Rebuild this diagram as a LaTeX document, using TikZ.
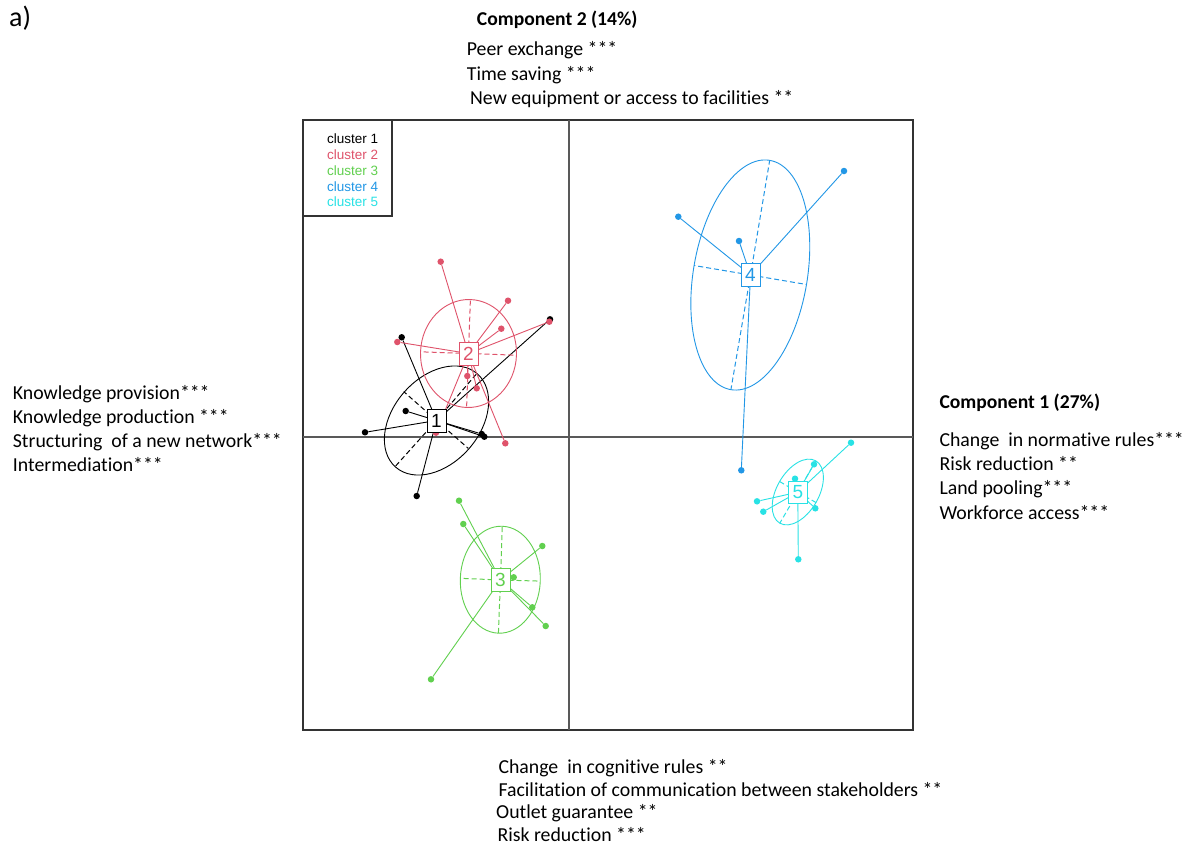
\documentclass[tikz,border=0pt]{standalone}
\usepackage{fontspec}
\setmainfont[Ligatures=NoCommon]{Carlito}
\newfontfamily\legendfont{Liberation Sans}
\definecolor{clK}{HTML}{000000}
\definecolor{clR}{HTML}{DF536B}
\definecolor{clG}{HTML}{61D04F}
\definecolor{clB}{HTML}{2297E6}
\definecolor{clC}{HTML}{28E2E5}
\begin{document}
\begin{tikzpicture}[x=1pt,y=-1pt,
  txt/.style={anchor=base west,inner sep=0pt,font=\fontsize{19.8}{23.6}\selectfont},
  ttl/.style={anchor=base west,inner sep=0pt,font=\fontsize{19.6}{23.6}\selectfont\bfseries},
  leg/.style={anchor=base west,inner sep=0pt,font=\legendfont\fontsize{13.5}{16}\selectfont},
  ell/.style={line width=0.9pt},
  axd/.style={line width=1pt,dash pattern=on 5pt off 3pt},
  conn/.style={line width=0.9pt},
  dot/.style={circle,fill,inner sep=0pt,minimum size=6.5pt},
  cbox/.style={draw,fill=white,line width=0.9pt,inner sep=0pt,minimum width=19pt,minimum height=23pt,font=\legendfont\fontsize{19}{19}\selectfont},
  frm/.style={line width=1.1pt,draw=black!80},
  axl/.style={line width=1.1pt,draw=black!65}]
\useasboundingbox (0,0) rectangle (1187,847);
\fill[white] (0,0) rectangle (1187,847);

% plot frame, axes, legend box
\draw[frm] (303,120) rectangle (913,730);
\coordinate (hl) at (303,437); \coordinate (hr) at (913,437);
\coordinate (vt) at (569,120); \coordinate (vb) at (569,730);
\draw[axl] (hl) -- (hr);
\draw[axl] (vt) -- (vb);
\draw[frm] (303,120) rectangle (392,216);
\node[leg,text=clK] (l1) at (327,143) {cluster 1};
\node[leg,text=clR] (l2) at (327,159) {cluster 2};
\node[leg,text=clG] (l3) at (327,175) {cluster 3};
\node[leg,text=clB] (l4) at (327,191) {cluster 4};
\node[leg,text=clC] (l5) at (327,206.5) {cluster 5};

% centres
\coordinate (c1) at (436.5,420.5);
\coordinate (c2) at (468.5,353.5);
\coordinate (c3) at (500.5,580);
\coordinate (c4) at (750.5,275);
\coordinate (c5) at (797.8,492.2);

% cluster 1
\draw[ell,clK,rotate around={48.7:(436.5,420.5)}] (436.5,420.5) ellipse [x radius=62,y radius=43];
\foreach \x/\y [count=\i] in {476.9/373.4, 395.1/466.6, 468.3/448.4, 403.7/391.6}
  {\coordinate (e1-\i) at (\x,\y); \draw[axd,clK] (c1) -- (e1-\i);}
\foreach \x/\y [count=\i] in {401.7/337.3, 405.7/411, 365/432.3, 481.7/434, 484.3/436.7, 550/319.3, 416.7/496}
  {\node[dot,clK] (p1-\i) at (\x,\y) {}; \draw[conn,clK] (c1) -- (p1-\i);}

% cluster 2
\draw[ell,clR,rotate around={-2:(468.5,353.5)}] (468.5,353.5) ellipse [x radius=48,y radius=54];
\foreach \x/\y [count=\i] in {516.5/355.2, 420.5/351.8, 470.4/299.5, 466.6/407.5}
  {\coordinate (e2-\i) at (\x,\y); \draw[axd,clR] (c2) -- (e2-\i);}
\foreach \x/\y [count=\i] in {440.7/261.7, 508/300.7, 501.3/328.7, 549.3/321.7, 397.3/342, 467.3/376, 476.7/388.3, 505.3/443.3, 436/432.7}
  {\node[dot,clR] (p2-\i) at (\x,\y) {}; \draw[conn,clR] (c2) -- (p2-\i);}

% cluster 3
\draw[ell,clG,rotate around={-2:(500.3,579.7)}] (500.3,579.7) ellipse [x radius=40,y radius=53.5];
\foreach \x/\y [count=\i] in {540.3/581.1, 460.3/578.3, 502.2/526.2, 498.4/633.2}
  {\coordinate (e3-\i) at (\x,\y); \draw[axd,clG] (c3) -- (e3-\i);}
\foreach \x/\y [count=\i] in {459/500.7, 463.3/524, 542.3/546, 513.7/577.3, 532.3/607.3, 545.7/626, 431/679.3}
  {\node[dot,clG] (p3-\i) at (\x,\y) {}; \draw[conn,clG] (c3) -- (p3-\i);}

% cluster 4
\draw[ell,clB,rotate around={80.4:(750.3,275)}] (750.3,275) ellipse [x radius=116.3,y radius=57];
\foreach \x/\y [count=\i] in {769.7/160.3, 730.9/389.7, 806.5/284.5, 694.1/265.5}
  {\coordinate (e4-\i) at (\x,\y); \draw[axd,clB] (c4) -- (e4-\i);}
\foreach \x/\y [count=\i] in {678.3/216.7, 739/241, 844/171, 741.3/470.3}
  {\node[dot,clB] (p4-\i) at (\x,\y) {}; \draw[conn,clB] (c4) -- (p4-\i);}

% cluster 5
\draw[ell,clC,rotate around={60:(797.8,492)}] (797.8,492) ellipse [x radius=36,y radius=21];
\foreach \x/\y [count=\i] in {815.8/460.8, 779.8/523.2, 816.0/502.5, 779.6/481.5}
  {\coordinate (e5-\i) at (\x,\y); \draw[axd,clC] (c5) -- (e5-\i);}
\foreach \x/\y [count=\i] in {851/442.7, 814/464.3, 795/478.7, 757/501.3, 763.3/511.7, 815.3/508.3, 798.3/559.3}
  {\node[dot,clC] (p5-\i) at (\x,\y) {}; \draw[conn,clC] (c5) -- (p5-\i);}

% centre boxes
\node[cbox,draw=clK,text=clK] (b1) at (c1) {1};
\node[cbox,draw=clR,text=clR] (b2) at (c2) {2};
\node[cbox,draw=clG,text=clG] (b3) at (c3) {3};
\node[cbox,draw=clB,text=clB] (b4) at (c4) {4};
\node[cbox,draw=clC,text=clC,minimum height=22pt] (b5) at (c5) {5};

% texts
\node[anchor=base west,inner sep=0pt,font=\fontsize{28}{30}\selectfont] (lab) at (9,26) {a)};
\node[ttl] (t20) at (476.7,25) {Component 2 (14\%)};
\node[txt] (t21) at (466.7,55.5) {Peer exchange ***};
\node[txt] (t22) at (466.7,80) {Time saving ***};
\node[txt] (t23) at (470,104) {New equipment or access to facilities **};

\node[txt] (t31) at (12.7,399.5) {Knowledge provision***};
\node[txt] (t32) at (12.7,423.5) {Knowledge production ***};
\node[txt] (t33) at (12.7,447.3) {Structuring\ \ of a new network***};
\node[txt] (t34) at (12.7,471) {Intermediation***};

\node[ttl] (t10) at (939.3,408) {Component 1 (27\%)};
\node[txt] (t11) at (939.3,446) {Change\ \ in normative rules***};
\node[txt] (t12) at (939.3,470.5) {Risk reduction **};
\node[txt] (t13) at (939.3,494.8) {Land pooling***};
\node[txt] (t14) at (939.3,519) {Workforce access***};

\node[txt] (t41) at (498.3,773.5) {Change\ \ in cognitive rules **};
\node[txt] (t42) at (498.3,796.5) {Facilitation of communication between stakeholders **};
\node[txt] (t43) at (496,818.5) {Outlet guarantee **};
\node[txt] (t44) at (497.3,841.5) {Risk reduction ***};
\end{tikzpicture}
\end{document}
